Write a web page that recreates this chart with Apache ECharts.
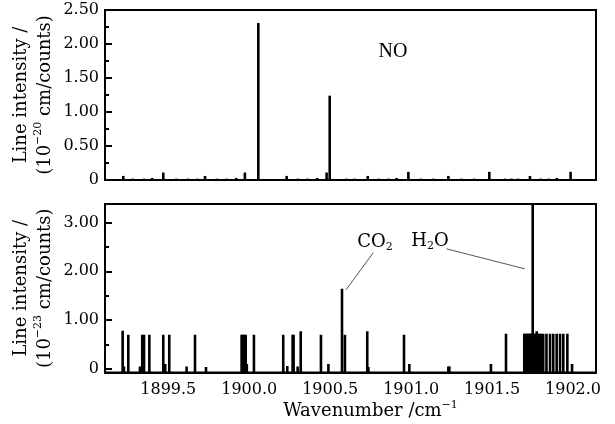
<!DOCTYPE html>
<html><head><meta charset="utf-8">
<script src="https://cdn.jsdelivr.net/npm/echarts@6/dist/echarts.min.js"></script>
<style>html,body{margin:0;padding:0;background:#fff}#c{width:615px;height:424px}</style>
</head><body><div id="c"></div>
<script>
// ---- data ----
const xTickValues = [1899.5, 1900.0, 1900.5, 1901.0, 1901.5, 1902.0];
const bottomMajorTicks = [0, 1, 2, 3];
const bottomMinorTicks = [0.5, 1.5, 2.5];

// NO lines (10^-20 cm/counts)
const noWavenumber = [1899.222, 1899.28, 1899.35, 1899.40, 1899.469, 1899.55, 1899.62, 1899.68, 1899.727, 1899.80, 1899.86, 1899.92, 1899.973, 1900.056,
  1900.231, 1900.30, 1900.36, 1900.42, 1900.478, 1900.497, 1900.60, 1900.65, 1900.732, 1900.80, 1900.86, 1900.91, 1900.983,
  1901.06, 1901.137, 1901.23, 1901.31, 1901.39, 1901.483, 1901.58, 1901.62, 1901.66, 1901.734, 1901.80, 1901.85, 1901.90, 1901.985];
const noIntensity = [0.06, 0.02, 0.02, 0.03, 0.11, 0.02, 0.02, 0.02, 0.06, 0.02, 0.02, 0.03, 0.11, 2.31,
  0.06, 0.02, 0.02, 0.03, 0.11, 1.24, 0.02, 0.02, 0.06, 0.02, 0.02, 0.03, 0.12,
  0.02, 0.02, 0.06, 0.02, 0.02, 0.12, 0.02, 0.02, 0.02, 0.06, 0.02, 0.02, 0.03, 0.12];

// CO2 + H2O lines (10^-23 cm/counts)
const mixWavenumber = [1899.218, 1899.226, 1899.253, 1899.325, 1899.339, 1899.350, 1899.383, 1899.469, 1899.481, 1899.506,
  1899.613, 1899.665, 1899.733, 1899.953, 1899.960, 1899.967, 1899.978, 1899.985, 1900.029,
  1900.210, 1900.235, 1900.268, 1900.274, 1900.299, 1900.318, 1900.443, 1900.489, 1900.573, 1900.591,
  1900.729, 1900.736, 1900.956, 1900.989, 1901.230, 1901.236, 1901.493, 1901.586,
  1901.699, 1901.706, 1901.714, 1901.720, 1901.727, 1901.733, 1901.740, 1901.746, 1901.751, 1901.758, 1901.764, 1901.770,
  1901.776, 1901.786, 1901.795, 1901.805, 1901.816, 1901.836, 1901.858, 1901.878, 1901.899, 1901.920, 1901.940, 1901.965, 1901.994];
const mixIntensity = [0.78, 0.05, 0.70, 0.05, 0.70, 0.70, 0.70, 0.70, 0.10, 0.70,
  0.05, 0.70, 0.04, 0.70, 0.70, 0.70, 0.70, 0.10, 0.70,
  0.70, 0.06, 0.70, 0.70, 0.05, 0.77, 0.70, 0.10, 1.64, 0.70,
  0.77, 0.04, 0.70, 0.10, 0.05, 0.05, 0.10, 0.72,
  0.72, 0.72, 0.72, 0.72, 0.72, 0.72, 0.72, 0.72, 3.45, 0.72, 0.72, 0.72,
  0.77, 0.72, 0.72, 0.72, 0.72, 0.72, 0.72, 0.72, 0.72, 0.72, 0.72, 0.72, 0.10];

// leader lines for annotations [x, y] pairs
const co2Leader = [[1900.766, 2.38], [1900.598, 1.62]];
const h2oLeader = [[1901.219, 2.46], [1901.703, 2.05]];

const xRange = [1899.109, 1902.142];
const topRange = [0, 2.5];
const bottomRange = [-0.075, 3.38];

// ---- chart ----
const serif = 'DejaVu Serif';
const zip = (a, b) => a.map((v, i) => [v, b[i]]);
function makeRender(yMin) {
  return function (params, api) {
    const x = api.value(0), y = api.value(1);
    const p0 = api.coord([x, yMin]);
    const p1 = api.coord([x, y]);
    return { type: 'line', shape: { x1: p0[0], y1: p0[1], x2: p1[0], y2: p1[1] },
      style: { stroke: '#000', lineWidth: 2.6 } };
  };
}
const fmtY = v => v === 0 ? '0' : v.toFixed(2);
const yName = exp => 'Line intensity /\n(10{p|' + exp + '} cm/counts)';
const nameStyle = {
  fontFamily: serif, fontSize: 18, lineHeight: 24, color: '#000',
  rich: { p: { fontFamily: serif, fontSize: 11, lineHeight: 10, verticalAlign: 'top', color: '#000' } }
};
const axisLineStyle = { show: true, onZero: false, lineStyle: { color: '#000', width: 2 } };

const chart = echarts.init(document.getElementById('c'), null, { renderer: 'canvas' });
chart.setOption({
  animation: false,
  backgroundColor: '#fff',
  grid: [
    { left: 105, top: 10, width: 491, height: 170, show: true, borderColor: '#000', borderWidth: 2, outerBoundsMode: 'none' },
    { left: 105, top: 204, width: 491, height: 168.5, show: true, borderColor: '#000', borderWidth: 2, outerBoundsMode: 'none' }
  ],
  xAxis: [
    { type: 'value', gridIndex: 0, min: xRange[0], max: xRange[1], axisLine: axisLineStyle,
      axisTick: { show: false }, axisLabel: { show: false }, splitLine: { show: false } },
    { type: 'value', gridIndex: 1, min: xRange[0], max: xRange[1], axisLine: axisLineStyle,
      axisTick: { show: false }, splitLine: { show: false },
      axisLabel: { customValues: xTickValues, formatter: v => v.toFixed(1), fontFamily: serif, fontSize: 16, color: '#000', margin: 9 },
      name: 'Wavenumber /cm{p|−1}', nameLocation: 'middle', nameGap: 27, nameMoveOverlap: false,
      nameTextStyle: Object.assign({}, nameStyle, { padding: [0, 0, 0, 40] }) }
  ],
  yAxis: [
    { type: 'value', gridIndex: 0, min: topRange[0], max: topRange[1], interval: 0.5, position: 'left',
      axisLine: axisLineStyle,
      axisTick: { show: true, inside: true, length: 7, lineStyle: { color: '#000', width: 2 } },
      minorTick: { show: true, splitNumber: 2, length: 4, lineStyle: { color: '#000', width: 2 } },
      axisLabel: { formatter: fmtY, fontFamily: serif, fontSize: 16, color: '#000', margin: 6 },
      splitLine: { show: false }, minorSplitLine: { show: false },
      name: yName('−20'), nameLocation: 'middle', nameRotate: 90, nameGap: 48, nameMoveOverlap: false, nameTextStyle: nameStyle },
    { type: 'value', gridIndex: 1, min: bottomRange[0], max: bottomRange[1], position: 'left',
      axisLine: axisLineStyle,
      axisTick: { show: true, inside: true, length: 7, customValues: bottomMajorTicks, lineStyle: { color: '#000', width: 2 } },
      axisLabel: { customValues: bottomMajorTicks, formatter: fmtY, fontFamily: serif, fontSize: 16, color: '#000', margin: 6 },
      splitLine: { show: false },
      name: yName('−23'), nameLocation: 'middle', nameRotate: 90, nameGap: 48, nameMoveOverlap: false, nameTextStyle: nameStyle },
    { type: 'value', gridIndex: 1, min: bottomRange[0], max: bottomRange[1], position: 'left', offset: 0,
      axisLine: { show: false },
      axisTick: { show: true, inside: true, length: 4, customValues: bottomMinorTicks, lineStyle: { color: '#000', width: 2 } },
      axisLabel: { show: false }, splitLine: { show: false } }
  ],
  series: [
    { type: 'custom', name: 'NO', xAxisIndex: 0, yAxisIndex: 0, clip: true,
      renderItem: makeRender(topRange[0]), data: zip(noWavenumber, noIntensity) },
    { type: 'custom', name: 'CO2/H2O', xAxisIndex: 1, yAxisIndex: 1, clip: true,
      renderItem: makeRender(bottomRange[0]), data: zip(mixWavenumber, mixIntensity) },
    { type: 'line', xAxisIndex: 1, yAxisIndex: 1, data: co2Leader, symbol: 'none', silent: true,
      lineStyle: { color: '#555', width: 1 } },
    { type: 'line', xAxisIndex: 1, yAxisIndex: 1, data: h2oLeader, symbol: 'none', silent: true,
      lineStyle: { color: '#555', width: 1 } }
  ],
  graphic: [
    { type: 'text', x: 393, y: 52, style: { text: 'NO', font: '20px "Liberation Serif"', fill: '#000', textAlign: 'center', textVerticalAlign: 'middle' } },
    { type: 'text', x: 375, y: 242, style: { text: '{a|CO}{s|2}', fill: '#000', textAlign: 'center', textVerticalAlign: 'middle',
      rich: { a: { fontFamily: serif, fontSize: 18, lineHeight: 22 }, s: { fontFamily: serif, fontSize: 11, lineHeight: 7, verticalAlign: 'bottom' } } } },
    { type: 'text', x: 430, y: 241, style: { text: '{a|H}{s|2}{a|O}', fill: '#000', textAlign: 'center', textVerticalAlign: 'middle',
      rich: { a: { fontFamily: serif, fontSize: 18, lineHeight: 22 }, s: { fontFamily: serif, fontSize: 11, lineHeight: 7, verticalAlign: 'bottom' } } } }
  ]
});
</script></body></html>
